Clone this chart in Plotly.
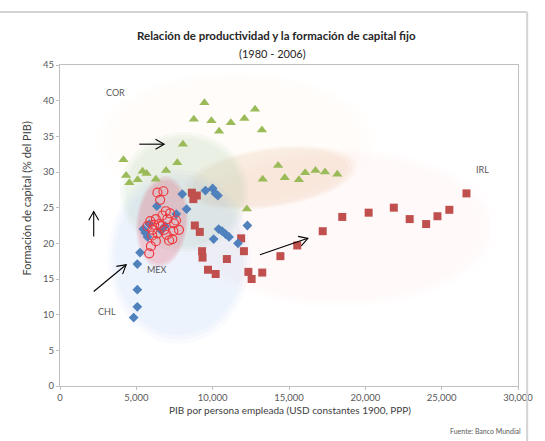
import numpy as np
import plotly.graph_objects as go

# GDP per employed person (USD) vs gross fixed capital formation (% of GDP), 1980-2006
cor_x = [4156, 4331, 4546, 5085, 5410, 5669, 6280, 6949, 7682, 8052, 8767, 9462, 9916, 10423,
         11189, 12079, 12241, 12774, 13228, 13280, 14287, 14722, 15651, 16060, 16735, 17359, 18164]
cor_y = [31.7, 29.5, 28.5, 28.9, 30.1, 29.8, 29.0, 30.2, 31.3, 33.9, 37.4, 39.7, 37.2, 35.7,
         36.9, 37.5, 24.8, 38.8, 35.9, 29.0, 30.9, 29.2, 28.9, 29.9, 30.2, 30.0, 29.7]

irl_x = [8637, 8962, 8734, 8832, 9157, 9306, 9338, 9695, 10196, 10930, 11865, 12047, 12339,
         12553, 13248, 14436, 15540, 17209, 18488, 20216, 21865, 22904, 23982, 24723, 25502, 26625]
irl_y = [27.1, 26.7, 26.2, 22.5, 21.6, 18.9, 18.0, 16.3, 15.7, 17.8, 20.7, 18.9, 16.0,
         15.0, 15.9, 18.2, 19.7, 21.7, 23.7, 24.3, 25.0, 23.4, 22.7, 23.8, 24.7, 27.0]

chl_x = [4825, 5065, 5065, 5065, 5241, 5455, 5734, 6345, 6884, 7618, 8007, 8293, 9527, 10001,
         10176, 10345, 10066, 10390, 10618, 10845, 11072, 11657, 12274, 5845, 6624, 5585]
chl_y = [9.6, 11.1, 13.5, 17.1, 18.7, 22.0, 20.9, 25.2, 22.4, 24.1, 26.9, 24.8, 27.4, 27.7,
         27.0, 26.7, 20.6, 22.0, 21.7, 21.3, 20.9, 20.0, 22.5, 22.7, 21.8, 21.5]

mex_x = [6384, 6773, 6559, 6929, 7208, 6708, 6280, 5910, 6169, 7033, 7468, 6604, 5734, 7793,
         7423, 6384, 6059, 6994, 7358, 7143, 6280, 5955, 5845, 6819, 6494, 7598, 6039]
mex_y = [27.1, 27.3, 26.1, 24.5, 24.2, 23.9, 23.4, 23.1, 22.6, 23.4, 22.8, 22.4, 22.4, 21.9,
         21.7, 21.4, 21.9, 21.2, 20.6, 20.4, 20.3, 19.6, 18.6, 21.9, 22.7, 23.2, 21.1]

x_ticks = [0, 5000, 10000, 15000, 20000, 25000, 30000]
y_ticks = [0, 5, 10, 15, 20, 25, 30, 35, 40, 45]

W, H = 545, 441
M = dict(l=60, r=23, t=65, b=55)
PLOT_W = W - M["l"] - M["r"]
PLOT_H = H - M["t"] - M["b"]
KX = PLOT_W / 30000.0   # pixels per x unit
KY = PLOT_H / 45.0      # pixels per y unit
FONT = "Lato, 'Open Sans', sans-serif"


def ellipse_path(cx, cy, rx, ry, angle=0.0, n=90):
    """Closed ellipse path in data coordinates; radii in pixels, angle in screen degrees."""
    a = np.radians(angle)
    t = np.linspace(0, 2 * np.pi, n, endpoint=False)
    dx, dy = rx * np.cos(t), ry * np.sin(t)
    ux = dx * np.cos(a) - dy * np.sin(a)
    uy = dx * np.sin(a) + dy * np.cos(a)
    xs, ys = cx + ux / KX, cy + uy / KY
    pts = " L".join(f"{x:.2f},{y:.4f}" for x, y in zip(xs, ys))
    return "M" + pts + " Z"


def soft_ellipse(cx, cy, rx, ry, rgb, alpha, angle=0.0, layers=3):
    """Several stacked ellipses give a feathered edge."""
    al = 1 - (1 - alpha) ** (1.0 / layers)
    out = []
    for i in range(layers):
        s = 1.0 - 0.05 * i
        out.append(dict(type="path", path=ellipse_path(cx, cy, rx * s, ry * s, angle),
                        fillcolor=f"rgba({rgb},{al:.3f})", line=dict(width=0),
                        layer="below", xref="x", yref="y"))
    return out


def arrow(x0, y0, x1, y1, head=10, spread=30):
    ang = np.arctan2((y1 - y0) * KY, (x1 - x0) * KX)
    pts = []
    for s in (1, -1):
        a = ang + np.pi + s * np.radians(spread)
        pts.append((x1 + head * np.cos(a) / KX, y1 + head * np.sin(a) / KY))
    ln = dict(color="black", width=1.1)
    return [
        dict(type="line", x0=x0, y0=y0, x1=x1, y1=y1, line=ln, layer="above"),
        dict(type="path", line=ln, layer="above",
             path=f"M{pts[0][0]:.2f},{pts[0][1]:.4f} L{x1},{y1} L{pts[1][0]:.2f},{pts[1][1]:.4f}"),
    ]


fig = go.Figure()
fig.add_trace(go.Scatter(x=cor_x, y=cor_y, mode="markers", name="COR",
                         marker=dict(symbol="triangle-up", size=9, color="#9BBB59")))
fig.add_trace(go.Scatter(x=irl_x, y=irl_y, mode="markers", name="IRL",
                         marker=dict(symbol="square", size=8, color="#C0504D")))
fig.add_trace(go.Scatter(x=chl_x, y=chl_y, mode="markers", name="CHL",
                         marker=dict(symbol="diamond", size=7.5, color="#4F81BD")))
fig.add_trace(go.Scatter(x=mex_x, y=mex_y, mode="markers", name="MEX",
                         marker=dict(symbol="circle-open", size=9, color="#EE3A3F",
                                     line=dict(width=1.2))))

shapes = []
# country group shading
shapes += soft_ellipse(11494, 34.5, 140, 68, "250,230,150", 0.07)          # COR wide
shapes += soft_ellipse(18248, 22.2, 161, 80, "240,170,150", 0.065)         # IRL
shapes += soft_ellipse(13767, 29.2, 88, 30, "215,150,80", 0.13, angle=8)  # COR late
shapes += soft_ellipse(8118, 27.2, 65, 60, "150,205,160", 0.20)           # COR early
shapes += soft_ellipse(7793, 18.1, 72, 87, "150,190,240", 0.15)           # CHL
shapes += soft_ellipse(6689, 23.0, 26, 46, "225,90,110", 0.28, angle=-6)  # MEX

# trend arrows
shapes += arrow(5195, 33.9, 6819, 33.9)
shapes += arrow(2208, 20.95, 2208, 24.45)
shapes += arrow(2208, 13.25, 4331, 17.0)
shapes += arrow(13098, 18.4, 16235, 20.7)

# outer chart frame (top and right edges)
shapes += [
    dict(type="line", xref="paper", yref="paper", x0=-0.14, x1=1.02, y0=1.165, y1=1.165,
         line=dict(color="#D4D4D4", width=2), layer="above"),
    dict(type="line", xref="paper", yref="paper", x0=1.02, x1=1.02, y0=-0.2, y1=1.165,
         line=dict(color="#D4D4D4", width=2), layer="above"),
]

label_font = dict(family=FONT, size=9, color="#595959")
annotations = [
    dict(x=3637, y=41.1, text="COR", showarrow=False, font=label_font),
    dict(x=6364, y=16.4, text="MEX", showarrow=False, font=label_font),
    dict(x=3052, y=10.4, text="CHL", showarrow=False, font=label_font),
    dict(x=27664, y=30.4, text="IRL", showarrow=False, font=label_font),
    dict(xref="paper", yref="paper", x=0.473, y=1.118, showarrow=False,
         text="<b>Relación de productividad y la formación de capital fijo</b>",
         font=dict(family=FONT, size=11.5, color="#262626")),
    dict(xref="paper", yref="paper", x=0.463, y=1.063, showarrow=False,
         text="(1980 - 2006)", font=dict(family=FONT, size=11, color="#262626")),
    dict(xref="paper", yref="paper", x=-0.092, y=0.585, showarrow=False, textangle=-90,
         text="Formación de capital (% del PIB)",
         font=dict(family=FONT, size=11, color="#404040")),
    dict(xref="paper", yref="paper", x=0.502, y=-0.1, showarrow=False,
         text="PIB por persona empleada (USD constantes 1900, PPP)",
         font=dict(family=FONT, size=10, color="#404040")),
    dict(xref="paper", yref="paper", x=1.01, y=-0.158, xanchor="right", showarrow=False,
         text="Fuente: Banco Mundial", font=dict(family=FONT, size=7, color="#595959")),
]

axis_common = dict(showline=True, linecolor="#BFBFBF", linewidth=1, mirror=True,
                   ticks="outside", ticklen=3, tickcolor="#BFBFBF", showgrid=False,
                   zeroline=False, tickfont=dict(family=FONT, size=9.5, color="#595959"))

fig.update_layout(
    width=W, height=H, margin=M, showlegend=False,
    paper_bgcolor="white", plot_bgcolor="white",
    xaxis=dict(range=[0, 30000], tickvals=x_ticks, tickformat=",", **axis_common),
    yaxis=dict(range=[0, 45], tickvals=y_ticks, **axis_common),
    shapes=shapes, annotations=annotations,
)

fig.write_html("out.html")
